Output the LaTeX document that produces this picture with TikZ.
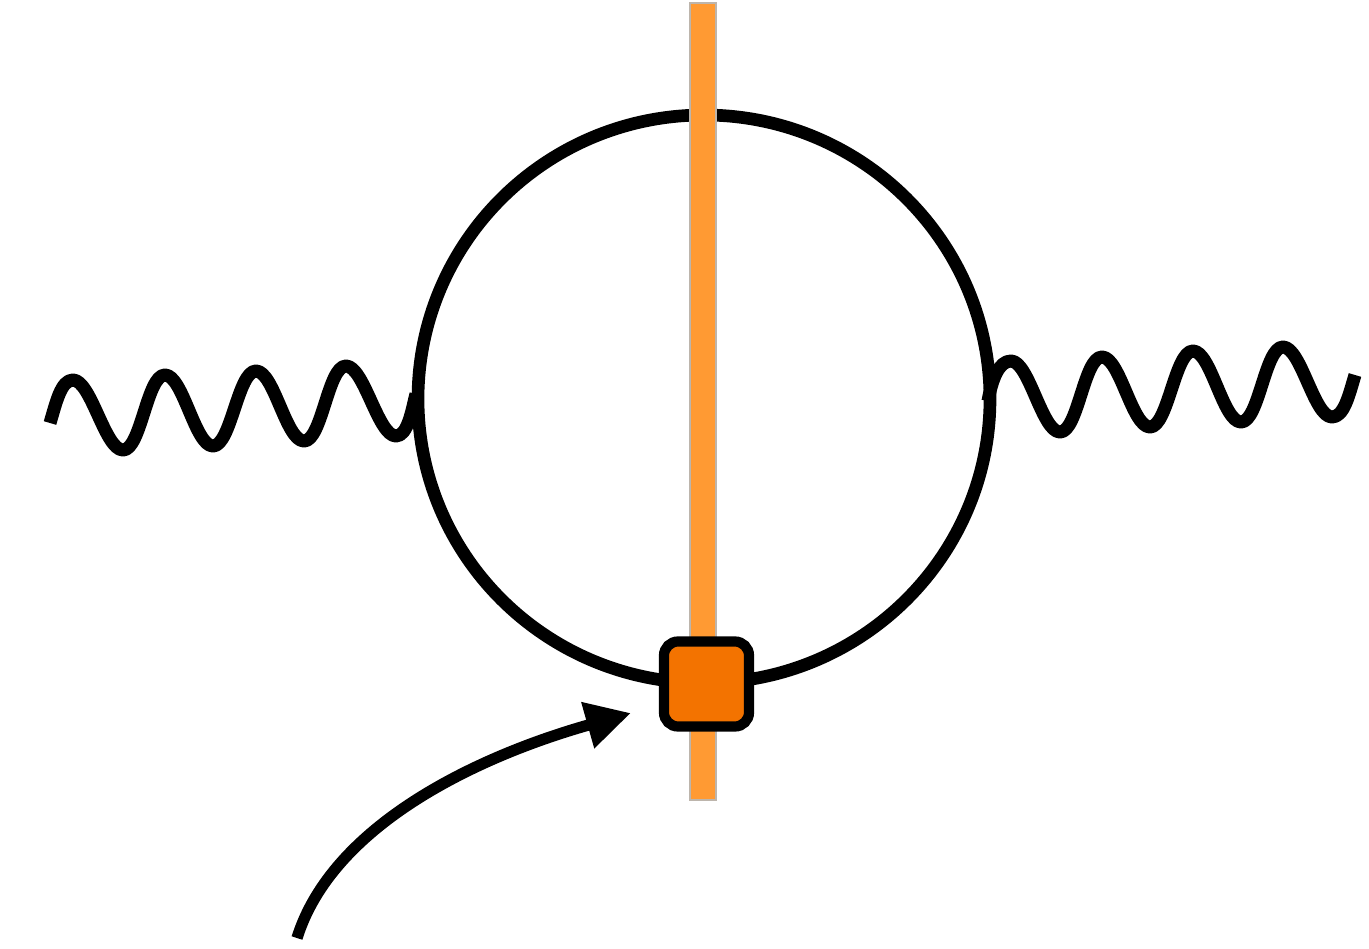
\documentclass[tikz,border=0pt]{standalone}
\usepackage{xcolor}
\usetikzlibrary{arrows.meta}
\definecolor{barorange}{HTML}{FF9A33}
\definecolor{baredge}{HTML}{BDB5AC}
\definecolor{vertexorange}{HTML}{F37300}

\begin{document}
\begin{tikzpicture}[
  x=0.01cm,
  y=-0.01cm,
  loopline/.style={black, line width=3.6pt},
  waveline/.style={black, line width=3.7pt, line join=round},
  vertexbox/.style={draw=black, fill=vertexorange, line width=2.9pt, rounded corners=4pt,
    minimum size=85*0.2845pt, inner sep=0pt, outer sep=0pt},
  insertion/.style={black, line width=3.2pt, -{Triangle[length=12.8pt, width=12.8pt]}}
]
  \useasboundingbox (0,0) rectangle (1369,948);
  \def\wavestep{18}

  \coordinate (leftend) at (50,423);
  \coordinate (leftjoin) at (416,394);
  \coordinate (rightjoin) at (988,401);
  \coordinate (rightend) at (1355,375);
  \coordinate (bartop) at (690,3);
  \coordinate (barbottom) at (716,800);
  \coordinate (arrowstart) at (297,938);
  \coordinate (arrowtip) at (631,713);

  % Loop
  \draw[loopline] (704,399) ellipse (286 and 284);

  % Cut through the loop
  \draw[baredge, fill=barorange, line width=0.3pt] (bartop) rectangle (barbottom);

  % Left wave
  \draw[waveline] (leftend) .. controls +(6,-20) and +(-12,0) .. (73,380)
    .. controls +(\wavestep,0) and +(-\wavestep,0) .. (123,450)
    .. controls +(\wavestep,0) and +(-\wavestep,0) .. (165,375)
    .. controls +(\wavestep,0) and +(-\wavestep,0) .. (213,446)
    .. controls +(\wavestep,0) and +(-\wavestep,0) .. (256,371)
    .. controls +(\wavestep,0) and +(-\wavestep,0) .. (304,441)
    .. controls +(\wavestep,0) and +(-\wavestep,0) .. (346,366)
    .. controls +(\wavestep,0) and +(-\wavestep,0) .. (396,436)
    .. controls +(12,0) and +(-4,15) .. (leftjoin);

  % Right wave
  \draw[waveline] (rightjoin) .. controls +(4,-22) and +(-12,0) .. (1011,361)
    .. controls +(\wavestep,0) and +(-\wavestep,0) .. (1060,432)
    .. controls +(\wavestep,0) and +(-\wavestep,0) .. (1102,357)
    .. controls +(\wavestep,0) and +(-\wavestep,0) .. (1150,427)
    .. controls +(\wavestep,0) and +(-\wavestep,0) .. (1193,351)
    .. controls +(\wavestep,0) and +(-\wavestep,0) .. (1241,422)
    .. controls +(\wavestep,0) and +(-\wavestep,0) .. (1283,347)
    .. controls +(\wavestep,0) and +(-\wavestep,0) .. (1332,417)
    .. controls +(12,0) and +(-6,20) .. (rightend);

  % Vertex
  \node[vertexbox] (vertex) at (706.5,684) {};

  % Arrow to the vertex
  \draw[insertion] (arrowstart) .. controls (332,826) and (475,757) .. (arrowtip);
\end{tikzpicture}
\end{document}
